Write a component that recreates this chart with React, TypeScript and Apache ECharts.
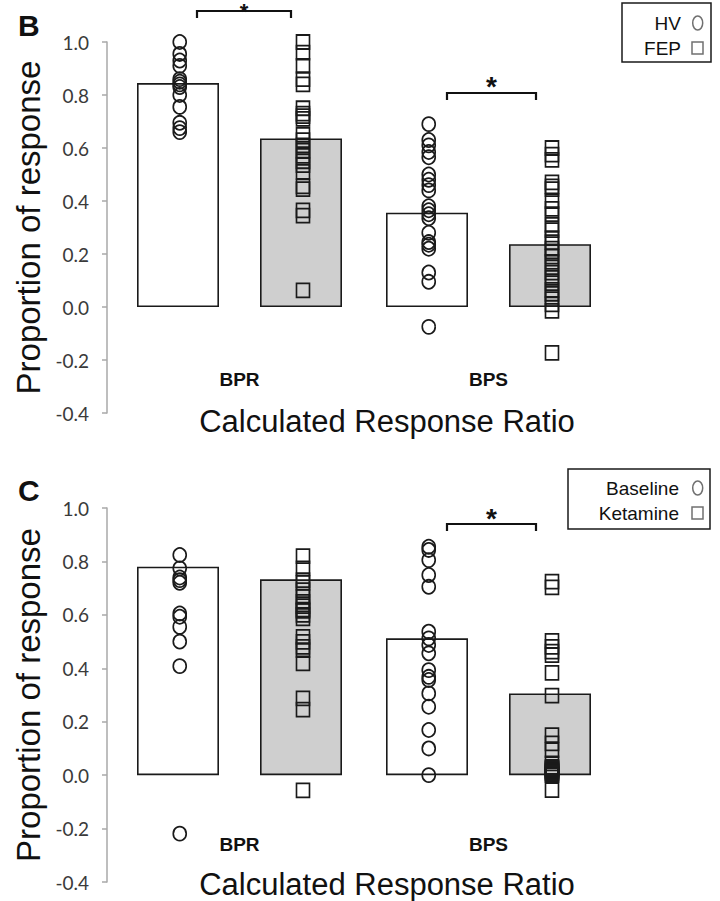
import React, { useEffect, useRef } from 'react';
import * as echarts from 'echarts';

// ---- data ----
const categories = ['BPR', 'BPS'];

// Panel B (HV vs FEP)
const hvMeanB = [0.845, 0.356];
const fepMeanB = [0.636, 0.237];
const hvBPR_B = [1.0, 0.955, 0.93, 0.91, 0.86, 0.85, 0.84, 0.83, 0.8, 0.755, 0.695, 0.675, 0.66];
const fepBPR_B = [1.0, 0.96, 0.91, 0.86, 0.84, 0.75, 0.73, 0.72, 0.71, 0.65, 0.63, 0.61, 0.59, 0.57, 0.55, 0.535, 0.51, 0.455, 0.445, 0.365, 0.345, 0.063];
const hvBPS_B = [0.69, 0.63, 0.61, 0.585, 0.565, 0.5, 0.48, 0.46, 0.44, 0.38, 0.365, 0.35, 0.335, 0.28, 0.245, 0.235, 0.22, 0.13, 0.095, -0.075];
const fepBPS_B = [0.6, 0.575, 0.555, 0.47, 0.455, 0.445, 0.4, 0.37, 0.35, 0.31, 0.29, 0.26, 0.245, 0.22, 0.21, 0.19, 0.17, 0.15, 0.13, 0.11, 0.09, 0.065, 0.05, 0.03, 0.01, -0.015, -0.173];

// Panel C (Baseline vs Ketamine)
const baseMeanC = [0.78, 0.512];
const ketMeanC = [0.733, 0.306];
const baseBPR_C = [0.824, 0.774, 0.74, 0.73, 0.72, 0.605, 0.593, 0.555, 0.5, 0.408, -0.219];
const ketBPR_C = [0.82, 0.774, 0.73, 0.72, 0.693, 0.668, 0.649, 0.633, 0.62, 0.615, 0.6, 0.587, 0.518, 0.499, 0.48, 0.468, 0.418, 0.287, 0.245, -0.057];
const baseBPS_C = [0.855, 0.843, 0.805, 0.749, 0.705, 0.537, 0.512, 0.487, 0.456, 0.393, 0.368, 0.356, 0.306, 0.256, 0.169, 0.1, 0.0];
const ketBPS_C = [0.724, 0.703, 0.503, 0.48, 0.462, 0.449, 0.383, 0.298, 0.15, 0.119, 0.094, 0.044, 0.031, 0.027, 0.023, 0.019, 0.015, 0.011, 0.007, 0.003, 0.0, -0.056];

const yMin = -0.4;
const yMax = 1.0;
const yStep = 0.2;

// ---- styling ----
const LEFT_OFF = -0.24;
const RIGHT_OFF = 0.255;
const SANS = 'Liberation Sans, Arial, sans-serif';
const STROKE = '#1a1a1a';

function pts(bpr: number[], bps: number[], off: number) {
  return bpr.map((v) => [0 + off, v]).concat(bps.map((v) => [1 + off, v]));
}

function yAxisCfg(grid: number) {
  return {
    type: 'value',
    gridIndex: grid,
    min: yMin,
    max: yMax,
    interval: yStep,
    offset: 8,
    axisLine: { show: true, onZero: false, lineStyle: { color: '#a8a8a8', width: 1.5 } },
    axisTick: { show: true, length: 5, lineStyle: { color: '#a8a8a8', width: 1.5 } },
    splitLine: { show: false },
    axisLabel: {
      margin: 18,
      fontFamily: 'Lato',
      fontSize: 19,
      color: '#3a3a3a',
      formatter: (v: number) => (Math.abs(v) < 1e-9 ? '0.0' : v.toFixed(1)),
    },
    name: 'Proportion of response',
    nameLocation: 'middle',
    nameGap: 59,
    nameTextStyle: { fontFamily: SANS, fontSize: 33, color: '#111' },
  };
}

function catAxisCfg(grid: number, offset: number) {
  return {
    type: 'category',
    gridIndex: grid,
    data: categories,
    offset,
    axisLine: { show: false, onZero: false },
    axisTick: { show: false },
    axisLabel: { margin: 0, fontFamily: SANS, fontWeight: 'bold', fontSize: 19, color: '#111' },
  };
}

function valXAxis(grid: number) {
  return { type: 'value', gridIndex: grid, min: -0.5, max: 1.5, show: false, axisLine: { onZero: false } };
}

function bar(name: string, xi: number, yi: number, data: number[], fill: string, border = STROKE, bw = 1.6) {
  return {
    name,
    type: 'bar',
    xAxisIndex: xi,
    yAxisIndex: yi,
    data,
    barWidth: 82,
    barGap: '50%',
    silent: true,
    z: 1,
    itemStyle: { color: fill, borderColor: border, borderWidth: bw },
  };
}

function scatter(name: string, xi: number, yi: number, data: number[][], symbol: string) {
  return {
    name,
    type: 'scatter',
    xAxisIndex: xi,
    yAxisIndex: yi,
    data,
    symbol,
    symbolSize: [13, 14],
    silent: true,
    z: 3,
    itemStyle: { color: 'rgba(0,0,0,0)', borderColor: STROKE, borderWidth: 1.7, opacity: 1 },
  };
}

function legendBox(x: number, y: number, w: number, h: number, textRight: number, row1: number, row2: number, t1: string, t2: string) {
  return [
    { type: 'rect', shape: { x, y, width: w, height: h }, style: { fill: '#fff', stroke: STROKE, lineWidth: 1.5 }, z: 10 },
    { type: 'text', x: textRight, y: row1, style: { text: t1, align: 'right', verticalAlign: 'middle', font: `19px ${SANS}`, fill: '#111' }, z: 11 },
    { type: 'text', x: textRight, y: row2, style: { text: t2, align: 'right', verticalAlign: 'middle', font: `19px ${SANS}`, fill: '#111' }, z: 11 },
    { type: 'ellipse', shape: { cx: 697.7, cy: row1, rx: 5, ry: 7 }, style: { fill: 'none', stroke: '#707070', lineWidth: 1.5 }, z: 11 },
    { type: 'rect', shape: { x: 692, y: row2 - 6, width: 11, height: 12 }, style: { fill: 'none', stroke: '#707070', lineWidth: 1.5 }, z: 11 },
  ];
}

function bracketLine(x1: number, x2: number, y: number) {
  return { type: 'polyline', shape: { points: [[x1, y + 7], [x1, y], [x2, y], [x2, y + 7]] }, style: { fill: 'none', stroke: '#111', lineWidth: 2.2 }, z: 10 };
}

function star(x: number, y: number, va: string, size: number) {
  return { type: 'text', x, y, style: { text: '*', align: 'center', verticalAlign: va, font: `bold ${size}px ${SANS}`, fill: '#111' }, z: 10 };
}

const option = {
  animation: false,
  backgroundColor: '#ffffff',
  grid: [
    { left: 115, top: 42, width: 498, height: 371 },
    { left: 115, top: 508, width: 498, height: 374 },
  ],
  xAxis: [catAxisCfg(0, -43), valXAxis(0), catAxisCfg(1, -47), valXAxis(1)],
  yAxis: [yAxisCfg(0), yAxisCfg(1)],
  series: [
    bar('HV mean', 0, 0, hvMeanB, '#ffffff'),
    bar('FEP mean', 0, 0, fepMeanB, '#cfcfcf'),
    scatter('HV', 1, 0, pts(hvBPR_B, hvBPS_B, LEFT_OFF), 'circle'),
    scatter('FEP', 1, 0, pts(fepBPR_B, fepBPS_B, RIGHT_OFF), 'rect'),
    bar('Baseline mean', 2, 1, baseMeanC, '#ffffff'),
    bar('Ketamine mean', 2, 1, ketMeanC, '#cfcfcf'),
    scatter('Baseline', 3, 1, pts(baseBPR_C, baseBPS_C, LEFT_OFF), 'circle'),
    scatter('Ketamine', 3, 1, pts(ketBPR_C, ketBPS_C, RIGHT_OFF), 'rect'),
  ],
  graphic: [
    { type: 'text', x: 18, y: 25, style: { text: 'B', verticalAlign: 'middle', font: `bold 30px ${SANS}`, fill: '#111' } },
    { type: 'text', x: 18, y: 490, style: { text: 'C', verticalAlign: 'middle', font: `bold 30px ${SANS}`, fill: '#111' } },
    { type: 'text', x: 387, y: 421, style: { text: 'Calculated Response Ratio', align: 'center', verticalAlign: 'middle', font: `31px ${SANS}`, fill: '#111' } },
    { type: 'text', x: 387, y: 884, style: { text: 'Calculated Response Ratio', align: 'center', verticalAlign: 'middle', font: `31px ${SANS}`, fill: '#111' } },
    bracketLine(197, 291, 11),
    star(244, 0, 'top', 22),
    bracketLine(447, 536, 93),
    star(491.5, 86, 'middle', 28),
    bracketLine(447, 536, 524),
    star(491.5, 518, 'middle', 28),
    ...legendBox(622, 3, 89, 59, 681, 23, 48, 'HV', 'FEP'),
    ...legendBox(568, 469, 142, 60, 679, 488, 513, 'Baseline', 'Ketamine'),
  ],
};

export default function App() {
  const ref = useRef<HTMLDivElement>(null);
  useEffect(() => {
    if (!ref.current) return;
    const chart = echarts.init(ref.current, null, { renderer: 'svg' });
    chart.setOption(option as any);
    return () => chart.dispose();
  }, []);
  return <div ref={ref} style={{ position: 'absolute', left: 0, top: 0, width: 720, height: 901 }} />;
}
